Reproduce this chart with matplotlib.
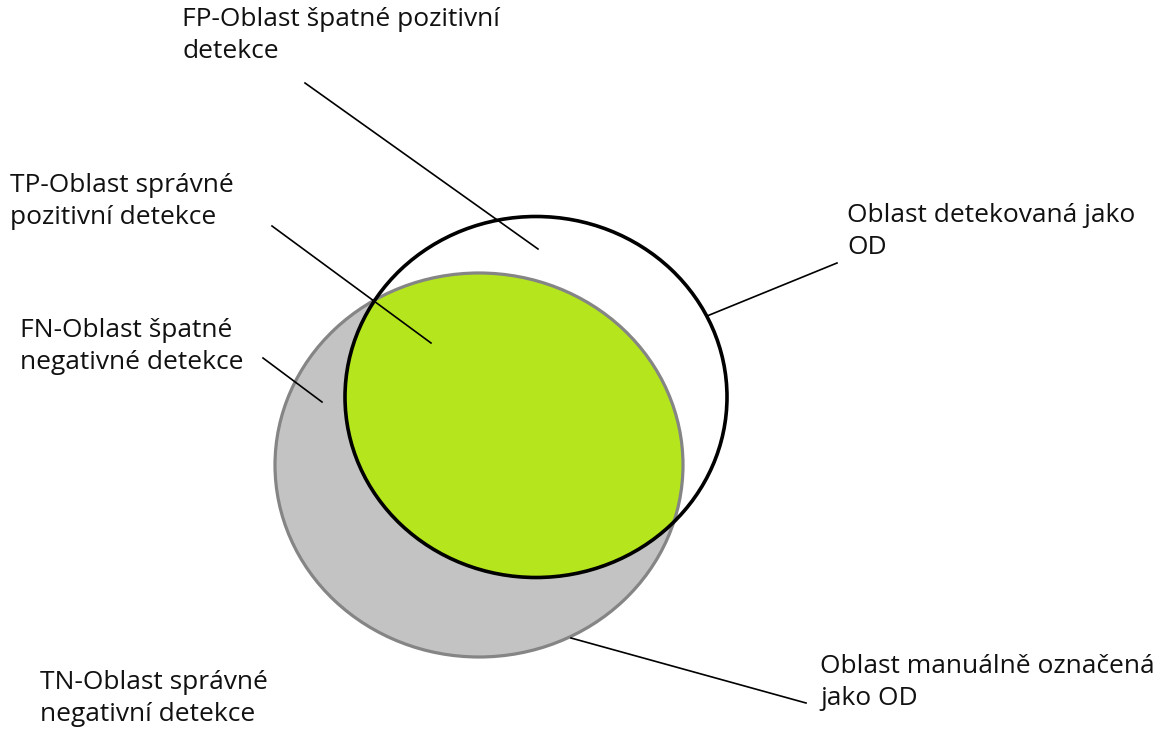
import matplotlib
matplotlib.use("Agg")
import matplotlib.pyplot as plt
from matplotlib.patches import Ellipse

plt.rcParams['font.family'] = ['Open Sans', 'DejaVu Sans']

# ellipses: centre x, centre y, width, height (pixel space, y down)
manual_region = (479, 465, 408, 384)
detected_region = (536, 397, 382, 361)

labels = [
    "FP-Oblast špatné pozitivní\ndetekce",
    "TP-Oblast správné\npozitivní detekce",
    "FN-Oblast špatné\nnegativné detekce",
    "Oblast detekovaná jako\nOD",
    "Oblast manuálně označená\njako OD",
    "TN-Oblast správné\nnegativní detekce",
]
label_pos = [(182, 7), (10, 173), (20, 318), (847, 203), (820, 654), (40, 670)]

# leader lines: (x0, y0, x1, y1)
leaders = [
    (305, 83, 538, 249),
    (272, 226, 431, 343),
    (263, 358, 322, 402),
    (707, 316, 837, 263),
    (571, 638, 806, 703),
]

fig = plt.figure(figsize=(11.62, 7.35), dpi=100)
ax = fig.add_axes([0, 0, 1, 1])
ax.set_xlim(0, 1162)
ax.set_ylim(735, 0)
ax.axis('off')

gray = Ellipse(manual_region[:2], manual_region[2], manual_region[3],
               facecolor='#c3c3c3', edgecolor='none', zorder=1)
ax.add_patch(gray)

green = Ellipse(detected_region[:2], detected_region[2], detected_region[3],
                facecolor='#b5e61d', edgecolor='none', zorder=2)
ax.add_patch(green)
green.set_clip_path(gray)

ax.add_patch(Ellipse(manual_region[:2], manual_region[2], manual_region[3],
                     facecolor='none', edgecolor='#858585', lw=2.3, zorder=3))
ax.add_patch(Ellipse(detected_region[:2], detected_region[2], detected_region[3],
                     facecolor='none', edgecolor='black', lw=2.6, zorder=4))

for x0, y0, x1, y1 in leaders:
    ax.plot([x0, x1], [y0, y1], color='black', lw=1.2, zorder=5)

for txt, (x, y) in zip(labels, label_pos):
    ax.text(x, y, txt, fontsize=19, va='top', ha='left', linespacing=1.35, color='#111111')

fig.savefig("out.png", dpi=100)
